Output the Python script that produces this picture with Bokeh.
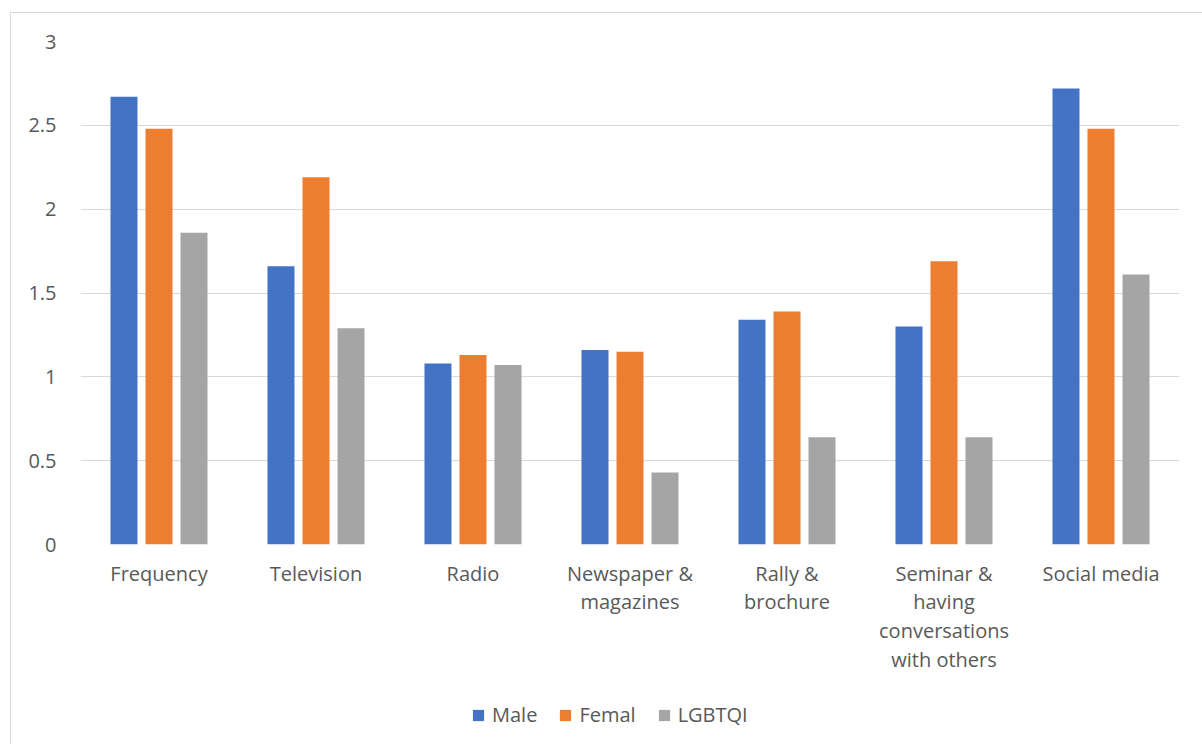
from bokeh.plotting import figure
from bokeh.layouts import column
from bokeh.models import ColumnDataSource, Range1d, Legend, LegendItem
from bokeh.transform import dodge
from bokeh.embed import file_html
from bokeh.resources import INLINE

# Media sources (axis categories) and mean scores per group
categories = [
    "Frequency",
    "Television",
    "Radio",
    "Newspaper &\nmagazines",
    "Rally &\nbrochure",
    "Seminar &\nhaving\nconversations\nwith others",
    "Social media",
]
male = [2.67, 1.66, 1.08, 1.16, 1.34, 1.30, 2.72]
femal = [2.48, 2.19, 1.13, 1.15, 1.39, 1.69, 2.48]
lgbtqi = [1.86, 1.29, 1.07, 0.43, 0.64, 0.64, 1.61]
series_names = ["Male", "Femal", "LGBTQI"]
y_ticks = [0, 0.5, 1, 1.5, 2, 2.5, 3]

colors = ["#4472C4", "#ED7D31", "#A5A5A5"]
text_color = "#595959"
grid_color = "#D9D9D9"
font = "Open Sans"
font_size = "20px"

source = ColumnDataSource(dict(cat=categories, male=male, femal=femal, lgbtqi=lgbtqi))

# Main chart
p = figure(
    x_range=categories,
    y_range=Range1d(y_ticks[0], y_ticks[-1]),
    width=1192,
    height=680,
    min_border_left=69,
    min_border_right=24,
    min_border_top=28,
    min_border_bottom=149,
    output_backend="svg",
    toolbar_location=None,
    tools="",
)
p.outline_line_color = None
p.background_fill_color = "white"
p.border_fill_color = "white"

offsets = [-0.223, 0.0, 0.223]
fields = ["male", "femal", "lgbtqi"]
for field, off, col in zip(fields, offsets, colors):
    p.vbar(
        x=dodge("cat", off, range=p.x_range),
        top=field,
        width=0.172,
        source=source,
        fill_color=col,
        line_color=None,
    )

# y axis: labels only, horizontal gridlines
p.yaxis.ticker = y_ticks
p.yaxis.axis_line_color = None
p.yaxis.major_tick_line_color = None
p.yaxis.minor_tick_line_color = None
p.yaxis.major_label_standoff = 18
p.yaxis.major_label_text_font = font
p.yaxis.major_label_text_font_size = font_size
p.yaxis.major_label_text_color = text_color
p.ygrid.grid_line_color = grid_color
p.ygrid.grid_line_width = 1

# x axis: category labels only
p.xaxis.axis_line_color = None
p.xaxis.major_tick_line_color = None
p.xaxis.minor_tick_line_color = None
p.xaxis.major_label_standoff = 9
p.xaxis.major_label_text_font = font
p.xaxis.major_label_text_font_size = font_size
p.xaxis.major_label_text_color = text_color
p.xaxis.major_label_text_line_height = 1.07
p.xgrid.grid_line_color = None

# Legend strip under the chart; key swatches are zero-height bars
leg = figure(
    width=1192,
    height=52,
    x_range=Range1d(0, 1),
    y_range=Range1d(0, 1),
    min_border=0,
    output_backend="svg",
    toolbar_location=None,
    tools="",
)
leg.axis.visible = False
leg.grid.visible = False
leg.outline_line_color = None
leg.border_fill_color = "white"
leg.background_fill_color = "white"

keys = [
    leg.vbar(x=[0.5], bottom=[0], top=[0], width=0.01, fill_color=c, line_color=None)
    for c in colors
]
legend = Legend(
    items=[LegendItem(label=n, renderers=[r]) for n, r in zip(series_names, keys)],
    orientation="horizontal",
    location=(391, 17),
    border_line_color=None,
    background_fill_alpha=0,
    padding=0,
    margin=0,
    glyph_width=14,
    glyph_height=14,
    label_standoff=7,
    spacing=21,
    label_text_font=font,
    label_text_font_size=font_size,
    label_text_color=text_color,
)
leg.add_layout(legend, "center")

layout = column(
    p,
    leg,
    spacing=0,
    margin=(12, 0, 0, 10),
    styles={"border-left": f"1px solid {grid_color}", "border-top": f"1px solid {grid_color}"},
)

open("out.html", "w").write(file_html(layout, INLINE))
